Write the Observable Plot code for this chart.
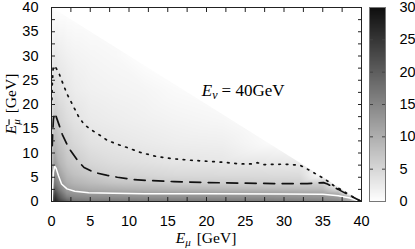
<!DOCTYPE html>
<html><head><meta charset="utf-8">
<script src="https://cdn.jsdelivr.net/npm/d3@7"></script>
<script src="https://cdn.jsdelivr.net/npm/@observablehq/plot@0.6"></script>
<style>
html,body{margin:0;padding:0;background:#fff;}
#chart{position:relative;width:415px;height:249px;overflow:hidden;}
#chart svg{position:absolute;top:0;overflow:visible;}
</style></head><body><div id="chart"></div>
<script>
// Grid of sample points (E_mu columns, E_mubar rows)
const gridX = [0, 0.4, 1, 2, 3, 5, 8, 12, 16, 22, 28, 32, 35, 37, 38.5, 40];
const gridY = [0, 0.5, 1, 1.6, 2.5, 3.8, 5.5, 8, 12, 17, 23, 30, 40];
// one list of values per E_mu column, bottom to top
const columns = [
  [14, 12.5, 12, 11.5, 11, 10, 9, 8, 6, 4.3, 3, 2, 1.2],
  [28, 27, 25.5, 23.5, 20.5, 17, 14.5, 12.3, 9, 6.5, 4.3, 2.8, 0],
  [24, 22, 20.5, 19, 16.5, 14, 11.8, 9.3, 7.5, 5.4, 3.6, 2.3, 0],
  [20, 17.5, 15.5, 13.8, 12, 10.3, 8.8, 7.2, 5.8, 4.2, 2.9, 1.8, 0],
  [18, 16, 14.5, 13.2, 11.2, 9.3, 7.7, 6.4, 4.8, 3.4, 2.3, 1.5, 0],
  [17, 15.3, 14, 12.6, 10.3, 8.3, 6.6, 5.0, 3.6, 2.6, 1.8, 1.2, 0],
  [17, 15.2, 13.8, 12.3, 9.8, 7.3, 5.4, 4.2, 3.1, 2.2, 1.5, 0.9, 0],
  [16.5, 15, 13.6, 12, 9.2, 6.9, 5.0, 3.7, 2.6, 1.8, 1.2, 0, 0],
  [16.5, 15, 13.5, 12, 8.9, 6.3, 4.6, 3.2, 2.2, 1.4, 0.6, 0, 0],
  [16.5, 15, 13.5, 12, 8.8, 6.1, 4.5, 3.05, 2.0, 1.0, 0, 0, 0],
  [16.5, 15, 13.5, 12, 8.7, 5.9, 4.4, 2.85, 0.6, 0, 0, 0, 0],
  [16, 14.6, 13.2, 11.7, 8.6, 5.9, 4.3, 2.6, 0, 0, 0, 0, 0],
  [15.5, 14.2, 13, 11.5, 8.5, 5.9, 0, 0, 0, 0, 0, 0, 0],
  [15, 13.5, 12.2, 10, 4.5, 0, 0, 0, 0, 0, 0, 0, 0],
  [12, 10, 7, 0, 0, 0, 0, 0, 0, 0, 0, 0, 0],
  [4, 0, 0, 0, 0, 0, 0, 0, 0, 0, 0, 0, 0]
];
// kinematic edge E_mu + E_mubar = E_nu = 40
const edgeX = [0, 40];
const edgeY = [40, 0];
// contour lines
const dottedX = [0.05, 0.1, 0.2, 0.35, 0.6, 1, 1.5, 2, 2.7, 3.5, 4.2, 5, 6.3, 7.2, 8.5, 9.8, 11.5, 13.5, 15.8, 18, 20.1, 22, 24.4, 25.8, 26.6, 27.4, 28.7, 30, 31, 32.1, 33, 34.3, 35.3, 36.4, 37.5, 38.5, 40];
const dottedY = [21, 24, 27.2, 28, 27.5, 26.3, 24.2, 22.2, 20, 17.5, 15.9, 14.9, 13.6, 12.6, 11.8, 11.1, 10.1, 9.3, 8.8, 8.5, 8.3, 8.1, 7.75, 7.75, 8.0, 7.6, 7.65, 7.7, 7.6, 7.45, 6.7, 5.5, 4.6, 3.3, 2.3, 1.3, 0];
const dashedX = [0.1, 0.15, 0.25, 0.4, 0.6, 1, 1.4, 2, 2.5, 3.3, 4.2, 5.5, 7.2, 8.5, 10.6, 13, 15.8, 20.1, 24.4, 28.7, 33, 35.1, 35.6, 37, 38.5, 40];
const dashedY = [11.5, 14, 17, 18.3, 17.5, 15.7, 13.8, 11.8, 10.4, 8.6, 7.0, 6.0, 5.4, 5.0, 4.5, 4.3, 4.1, 3.9, 3.8, 3.7, 3.7, 3.9, 3.6, 2.5, 1.2, 0];
const whiteX = [0.08, 0.15, 0.25, 0.4, 0.6, 0.9, 1.3, 2, 3, 4.8, 8, 12, 20, 30, 35, 37, 38.5, 40];
const whiteY = [0, 3, 6, 7.3, 6.8, 5.3, 3.6, 2.6, 2.1, 1.8, 1.7, 1.6, 1.6, 1.55, 1.5, 1.2, 0.7, 0];
// ticks
const axisLabels = [0, 5, 10, 15, 20, 25, 30, 35, 40];
const axisMinor = [0, 2.5, 5, 7.5, 10, 12.5, 15, 17.5, 20, 22.5, 25, 27.5, 30, 32.5, 35, 37.5, 40];
const colorTicks = [0, 5, 10, 15, 20, 25, 30];
const colorInner = [5, 10, 15, 20, 25];

const gridPoints = [];
gridX.forEach((x, j) => gridY.forEach((y, i) => gridPoints.push({x, y, v: columns[j][i]})));
const pairs = (xs, ys) => xs.map((x, i) => [x, ys[i]]);
const edge = edgeX.map((x, i) => ({x, y1: edgeY[i], y2: 40}));

const colorScale = {type: "linear", domain: [0, 30], range: ["#ffffff", "#0e0e0e"], interpolate: "rgb", clamp: true};
const font = "'Liberation Sans', Arial, Helvetica, sans-serif";

const main = Plot.plot({
  width: 415, height: 249,
  marginLeft: 51, marginRight: 54, marginTop: 7, marginBottom: 48,
  x: {domain: [0, 40]},
  y: {domain: [0, 40]},
  color: colorScale,
  style: {fontFamily: font, fontSize: "14.5px", color: "#000", background: "transparent"},
  marks: [
    Plot.raster(gridPoints, {x: "x", y: "y", fill: "v", interpolate: "barycentric"}),
    Plot.areaY(edge, {x: "x", y1: "y1", y2: "y2", fill: "white"}),
    Plot.line(pairs(whiteX, whiteY), {stroke: "white", strokeWidth: 1.5, clip: true}),
    Plot.line(pairs(dashedX, dashedY), {stroke: "#111", strokeWidth: 1.7, strokeDasharray: "11,7.5", clip: true}),
    Plot.line(pairs(dottedX, dottedY), {stroke: "#111", strokeWidth: 1.7, strokeDasharray: "1.6,5.8", clip: true}),
    Plot.axisX({anchor: "bottom", ticks: axisMinor, tickSize: -4, tickFormat: () => "", label: null, stroke: "#222"}),
    Plot.axisX({anchor: "top", ticks: axisMinor, tickSize: -4, tickFormat: () => "", label: null, stroke: "#222"}),
    Plot.axisY({anchor: "left", ticks: axisMinor, tickSize: -4, tickFormat: () => "", label: null, stroke: "#222"}),
    Plot.axisY({anchor: "right", ticks: axisMinor, tickSize: -4, tickFormat: () => "", label: null, stroke: "#222"}),
    Plot.axisX({anchor: "bottom", ticks: axisLabels, tickSize: 0, tickPadding: 14, label: null}),
    Plot.axisY({anchor: "left", ticks: axisLabels, tickSize: 0, tickPadding: 13, label: null}),
    Plot.frame({stroke: "#222"})
  ]
});

const barPoints = [];
colorTicks.forEach(v => { barPoints.push({x: 0, y: v}); barPoints.push({x: 1, y: v}); });
const bar = Plot.plot({
  width: 46, height: 249,
  marginLeft: 0, marginRight: 30, marginTop: 7, marginBottom: 48,
  x: {domain: [0, 1], axis: null},
  y: {domain: [0, 30]},
  color: colorScale,
  style: {fontFamily: font, fontSize: "14.5px", color: "#000", background: "transparent"},
  marks: [
    Plot.raster(barPoints, {x: "x", y: "y", fill: "y", interpolate: "barycentric"}),
    Plot.axisY({anchor: "right", ticks: colorInner, tickSize: -4, tickFormat: () => "", label: null, stroke: "#444"}),
    Plot.axisY({anchor: "left", ticks: colorInner, tickSize: -4, tickFormat: () => "", label: null, stroke: "#444"}),
    Plot.axisY({anchor: "right", ticks: colorTicks, tickSize: 0, tickPadding: 14, label: null, textAnchor: "start"}),
    Plot.frame({stroke: "#777"})
  ]
});

const chart = document.getElementById("chart");
main.style.left = "0px";
bar.style.left = "369px";
chart.appendChild(main);
chart.appendChild(bar);

// LaTeX-like labels
const svg = d3.select(main);
const sx = main.scale("x"), sy = main.scale("y");
const serif = "'Liberation Serif', 'Times New Roman', serif";

const xt = svg.append("text")
  .attr("x", (sx.apply(0) + sx.apply(40)) / 2).attr("y", 242.5)
  .attr("text-anchor", "middle").attr("font-family", serif).attr("font-size", 15.5).attr("fill", "#000");
xt.append("tspan").attr("font-style", "italic").text("E");
xt.append("tspan").attr("font-style", "italic").attr("font-size", 11).attr("dy", 3).text("μ");
xt.append("tspan").attr("dy", -3).attr("dx", 6).text("[GeV]");

const yc = (sy.apply(0) + sy.apply(40)) / 2;
const yt = svg.append("text")
  .attr("transform", `translate(16,${yc}) rotate(-90)`)
  .attr("text-anchor", "middle").attr("font-family", serif).attr("font-size", 15.5).attr("fill", "#000");
yt.append("tspan").attr("font-style", "italic").text("E");
yt.append("tspan").attr("font-style", "italic").attr("font-size", 11).attr("dy", 3.5)
  .style("text-decoration", "overline").text("μ");
yt.append("tspan").attr("dy", -3.5).attr("dx", 6).text("[GeV]");

const at = svg.append("text")
  .attr("x", sx.apply(24.8)).attr("y", sy.apply(21.7))
  .attr("font-family", serif).attr("font-size", 17).attr("fill", "#000");
at.append("tspan").attr("font-style", "italic").text("E");
at.append("tspan").attr("font-style", "italic").attr("font-size", 12).attr("dy", 3).text("ν");
at.append("tspan").attr("dy", -3).attr("dx", 4).text("= 40GeV");
</script>
</body></html>
